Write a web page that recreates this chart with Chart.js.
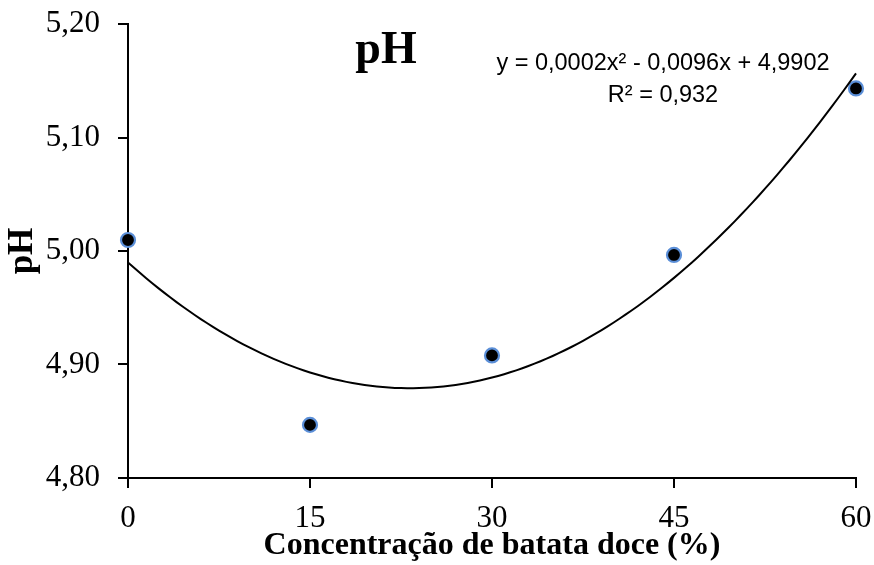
<!DOCTYPE html>
<html>
<head>
<meta charset="utf-8">
<title>pH</title>
<script src="https://cdn.jsdelivr.net/npm/chart.js@4/dist/chart.umd.min.js"></script>
<style>
    html, body { margin: 0; padding: 0; background: #fff; }
    #wrap { width: 874px; height: 565px; }
</style>
</head>
<body>
<div id="wrap"><canvas id="phChart" width="874" height="565"></canvas></div>
<script>
// --------------------------------------------------------------------------
// DATA
// --------------------------------------------------------------------------
const concentracao = [0, 15, 30, 45, 60];
const phValues = [5.0097, 4.8468, 4.908, 4.9965, 5.1432];
const xTicks = [0, 15, 30, 45, 60];
const yTicks = [4.80, 4.90, 5.00, 5.10, 5.20];
const equationLines = ['y = 0,0002x² - 0,0096x + 4,9902', 'R² = 0,932'];

// polynomial trendline (order 2), least squares fit of the points above
function fitQuadratic(xs, ys) {
    const s = [0, 0, 0, 0, 0];
    const t = [0, 0, 0];
    xs.forEach((x, i) => {
        for (let k = 0; k < 5; k++) s[k] += Math.pow(x, k);
        for (let k = 0; k < 3; k++) t[k] += Math.pow(x, k) * ys[i];
    });
    const m = [
        [s[0], s[1], s[2], t[0]],
        [s[1], s[2], s[3], t[1]],
        [s[2], s[3], s[4], t[2]]
    ];
    for (let c = 0; c < 3; c++) {
        for (let r = c + 1; r < 3; r++) {
            const f = m[r][c] / m[c][c];
            for (let k = c; k < 4; k++) m[r][k] -= f * m[c][k];
        }
    }
    const coef = [0, 0, 0];
    for (let r = 2; r >= 0; r--) {
        let v = m[r][3];
        for (let k = r + 1; k < 3; k++) v -= m[r][k] * coef[k];
        coef[r] = v / m[r][r];
    }
    return coef; // c0 + c1*x + c2*x^2
}

const coef = fitQuadratic(concentracao, phValues);
const trendPoints = [];
for (let x = xTicks[0]; x <= xTicks[xTicks.length - 1]; x += 0.5) {
    trendPoints.push({ x: x, y: coef[0] + coef[1] * x + coef[2] * x * x });
}

const fmtComma = (v) => v.toFixed(2).replace('.', ',');

// title "pH" and the trendline equation, drawn on top
const labelsPlugin = {
    id: 'labels',
    afterDraw(chart) {
        const ctx = chart.ctx;
        ctx.save();
        ctx.fillStyle = '#000';
        ctx.textAlign = 'center';
        ctx.textBaseline = 'alphabetic';
        ctx.font = 'bold 46px "Liberation Serif", "Times New Roman", serif';
        ctx.fillText('pH', 386, 63);
        ctx.font = '23.5px "Liberation Sans", Arial, sans-serif';
        ctx.fillText(equationLines[0], 663, 70);
        ctx.fillText(equationLines[1], 663, 102);
        ctx.restore();
    }
};

const serif = '"Liberation Serif", "Times New Roman", serif';

new Chart(document.getElementById('phChart'), {
    type: 'scatter',
    data: {
        datasets: [
            {
                type: 'line',
                label: 'Polinomial (pH)',
                data: trendPoints,
                borderColor: '#000',
                borderWidth: 2,
                pointRadius: 0,
                fill: false,
                tension: 0,
                clip: false
            },
            {
                label: 'pH',
                data: concentracao.map((x, i) => ({ x: x, y: phValues[i] })),
                backgroundColor: '#000',
                borderColor: '#5B8FD8',
                borderWidth: 2.2,
                pointRadius: 7,
                clip: false
            }
        ]
    },
    options: {
        responsive: false,
        animation: false,
        events: [],
        layout: { padding: { top: 24, right: 18, left: 0, bottom: 0 } },
        plugins: {
            legend: { display: false },
            tooltip: { enabled: false },
            title: { display: false }
        },
        scales: {
            x: {
                type: 'linear',
                min: 0,
                max: 60,
                afterFit: (s) => { s.height = 87; s.paddingLeft = 0; s.paddingRight = 0; },
                afterBuildTicks: (s) => { s.ticks = xTicks.map(v => ({ value: v })); },
                ticks: {
                    color: '#000',
                    font: { family: serif, size: 31 },
                    padding: 12,
                    maxRotation: 0,
                    callback: (v) => String(v)
                },
                grid: { drawOnChartArea: false, drawTicks: true, tickLength: 10, color: '#000', lineWidth: 2 },
                border: { display: true, color: '#000', width: 2 },
                title: {
                    display: true,
                    text: 'Concentração de batata doce (%)',
                    color: '#000',
                    font: { family: serif, size: 32, weight: 'bold', lineHeight: 1 },
                    padding: { top: 0, bottom: 3 }
                }
            },
            y: {
                min: 4.8,
                max: 5.2,
                afterFit: (s) => { s.width = 128; s.paddingTop = 0; s.paddingBottom = 0; },
                afterBuildTicks: (s) => { s.ticks = yTicks.map(v => ({ value: v })); },
                ticks: {
                    color: '#000',
                    font: { family: serif, size: 31 },
                    padding: 18,
                    callback: (v) => fmtComma(v)
                },
                grid: { drawOnChartArea: false, drawTicks: true, tickLength: 10, color: '#000', lineWidth: 2 },
                border: { display: true, color: '#000', width: 2 },
                title: {
                    display: true,
                    text: 'pH',
                    color: '#000',
                    font: { family: serif, size: 35, weight: 'bold', lineHeight: 1 },
                    padding: { top: 5, bottom: 0 }
                }
            }
        }
    },
    plugins: [labelsPlugin]
});
</script>
</body>
</html>
